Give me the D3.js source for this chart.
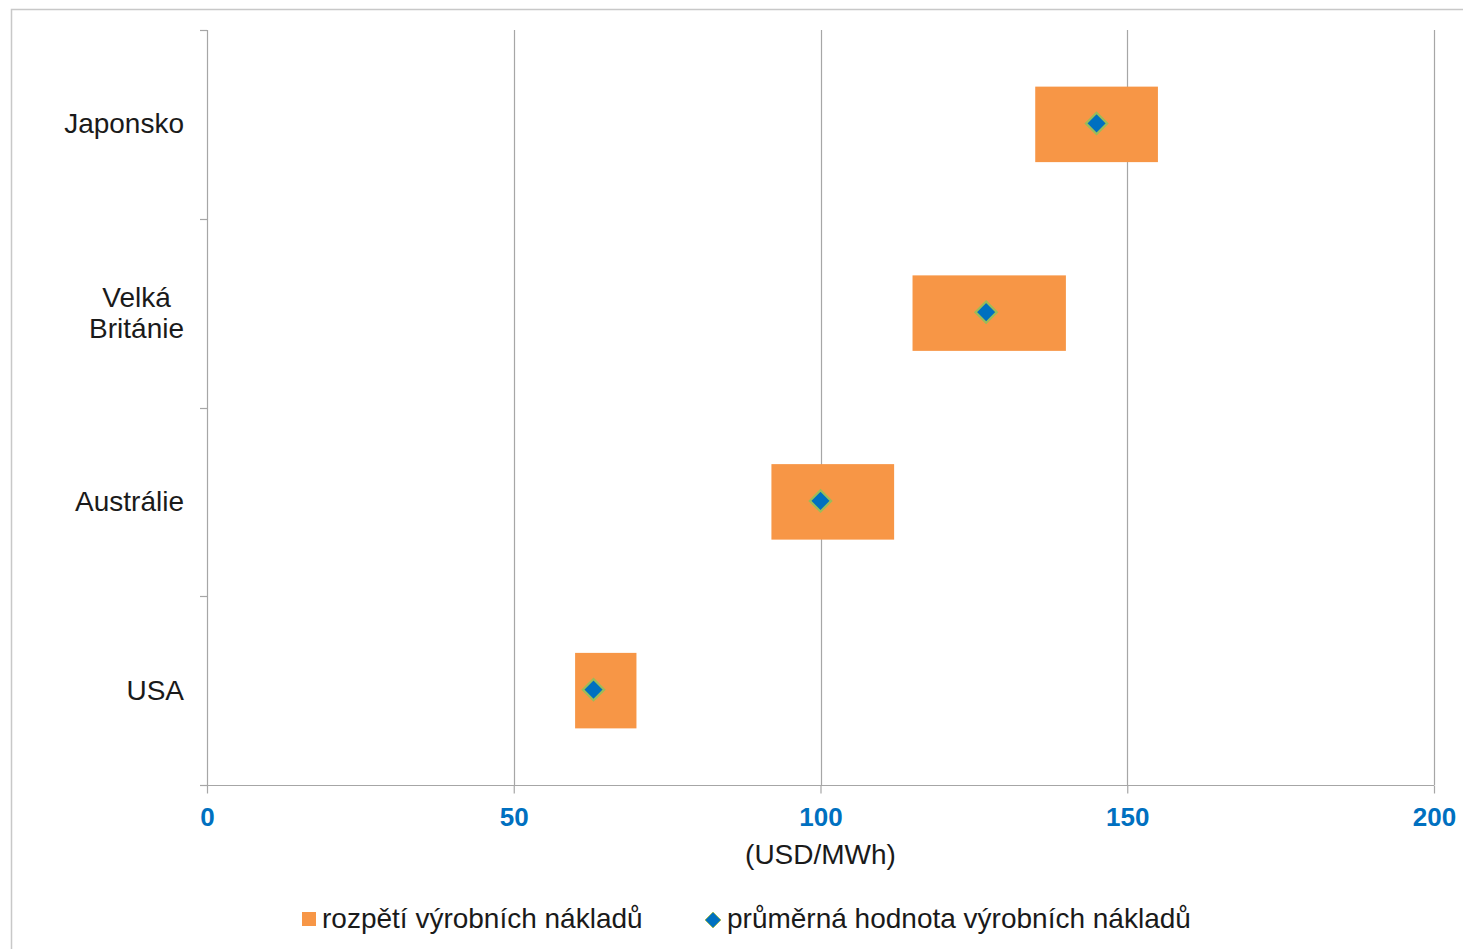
<!DOCTYPE html>
<html>
<head>
<meta charset="utf-8">
<script src="https://cdn.jsdelivr.net/npm/d3@7"></script>
<style>
  html, body { margin: 0; padding: 0; background: #fff; }
  svg { display: block; font-family: "Liberation Sans", Arial, sans-serif; }
</style>
</head>
<body>
<svg id="chart" width="1463" height="949"></svg>
<script>
// Production cost ranges by country (USD/MWh)
const countries = ["Japonsko", "Velká Británie", "Austrálie", "USA"];
const countryLines = [["Japonsko"], ["Velká", "Británie"], ["Austrálie"], ["USA"]];
const costLow = [135, 115, 92, 60];
const costHigh = [155, 140, 112, 70];
const costMean = [145, 127, 100, 63];
const xTicks = [0, 50, 100, 150, 200];
const xTitle = "(USD/MWh)";
const legendRange = "rozpětí výrobních nákladů";
const legendMean = "průměrná hodnota výrobních nákladů";

const orange = "#F79646";
const blue = "#0070C0";
const green = "#9BBB59";
const grid = "#A6A6A6";
const textSize = 28;

const svg = d3.select("#chart");
const plot = { left: 207, right: 1434, top: 30, bottom: 785 };

// Outer chart frame
svg.append("rect")
  .attr("x", 11.5).attr("y", 9.5)
  .attr("width", 1470).attr("height", 960)
  .attr("fill", "none").attr("stroke", "#C8C8C8").attr("stroke-width", 1.5);

const x = d3.scaleLinear().domain([0, 200]).range([plot.left, plot.right]);
const y = d3.scaleBand().domain(countries).range([plot.top, plot.bottom])
  .paddingInner(0.6).paddingOuter(0.3);

// Vertical gridlines
svg.append("g").selectAll("line")
  .data(xTicks.filter(d => d > 0))
  .join("line")
  .attr("x1", d => Math.round(x(d)) + 0.5).attr("x2", d => Math.round(x(d)) + 0.5)
  .attr("y1", plot.top).attr("y2", plot.bottom)
  .attr("stroke", grid).attr("stroke-width", 1.2);

// X axis
const xAxis = svg.append("g")
  .attr("transform", `translate(0,${plot.bottom + 0.5})`)
  .call(d3.axisBottom(x).tickValues(xTicks).tickSize(8).tickPadding(14).tickSizeOuter(0));
xAxis.select(".domain").remove();
xAxis.append("line").attr("x1", plot.left - 7).attr("x2", plot.right)
  .attr("stroke", grid).attr("stroke-width", 1.2);
xAxis.selectAll(".tick line").attr("stroke", grid).attr("stroke-width", 1.2);
xAxis.selectAll(".tick text")
  .attr("fill", blue).attr("font-size", 26).attr("font-weight", "bold")
  .attr("font-family", "Liberation Sans, Arial, sans-serif");

// Y axis with ticks on category boundaries
const yBounds = d3.range(countries.length + 1).map(i => plot.top + i * (plot.bottom - plot.top) / countries.length);
const yAxis = svg.append("g");
yAxis.append("line")
  .attr("x1", plot.left + 0.5).attr("x2", plot.left + 0.5)
  .attr("y1", plot.top).attr("y2", plot.bottom)
  .attr("stroke", grid).attr("stroke-width", 1.2);
yAxis.selectAll("line.tk").data(yBounds).join("line").attr("class", "tk")
  .attr("x1", plot.left - 7).attr("x2", plot.left)
  .attr("y1", d => Math.round(d) + 0.5).attr("y2", d => Math.round(d) + 0.5)
  .attr("stroke", grid).attr("stroke-width", 1.2);

// Category labels: lines centred on each other, block right-aligned
const labels = svg.append("g").selectAll("text")
  .data(countries)
  .join("text")
  .attr("text-anchor", "middle")
  .attr("font-size", textSize)
  .attr("fill", "#1a1a1a");
labels.each(function (d, i) {
  const lines = countryLines[i];
  const cy = y(d) + y.bandwidth() / 2;
  const lh = 31;
  const sel = d3.select(this);
  const spans = lines.map((t, j) => sel.append("tspan").text(t)
    .attr("x", 0)
    .attr("y", cy + 9 + (j - (lines.length - 1) / 2) * lh));
  const w = d3.max(spans, s => s.node().getComputedTextLength());
  spans.forEach(s => s.attr("x", 184 - w / 2));
});

// Range bars
svg.append("g").selectAll("rect")
  .data(countries)
  .join("rect")
  .attr("x", (d, i) => x(costLow[i]))
  .attr("width", (d, i) => x(costHigh[i]) - x(costLow[i]))
  .attr("y", d => y(d))
  .attr("height", y.bandwidth())
  .attr("fill", orange);

// Mean markers
const diamond = d3.symbol().type(d3.symbolDiamond2).size(290);
svg.append("g").selectAll("path")
  .data(countries)
  .join("path")
  .attr("d", diamond)
  .attr("transform", (d, i) => `translate(${x(costMean[i])},${y(d) + y.bandwidth() / 2 - 1})`)
  .attr("fill", blue).attr("stroke", green).attr("stroke-width", 2.2);

// Axis title
svg.append("text")
  .attr("x", x(100)).attr("y", 864)
  .attr("text-anchor", "middle").attr("font-size", textSize).attr("fill", "#1a1a1a")
  .text(xTitle);

// Legend
const lg = svg.append("g");
lg.append("rect").attr("x", 302).attr("y", 912).attr("width", 14).attr("height", 14).attr("fill", orange);
lg.append("text").attr("x", 322).attr("y", 928).attr("font-size", textSize).attr("fill", "#1a1a1a").text(legendRange);
lg.append("path").attr("d", d3.symbol().type(d3.symbolDiamond2).size(160))
  .attr("transform", "translate(713,920)").attr("fill", blue).attr("stroke", green).attr("stroke-width", 1);
lg.append("text").attr("x", 727).attr("y", 928).attr("font-size", textSize).attr("fill", "#1a1a1a").text(legendMean);
</script>
</body>
</html>
